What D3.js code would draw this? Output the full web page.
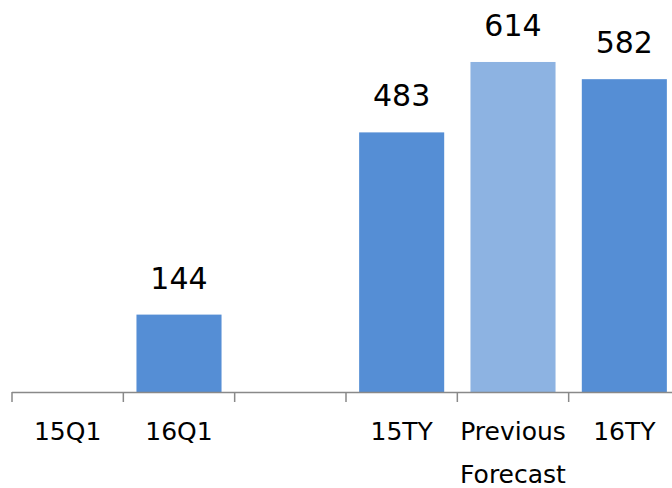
<!DOCTYPE html>
<html>
<head>
<meta charset="utf-8">
<script src="https://cdn.jsdelivr.net/npm/d3@7/dist/d3.min.js"></script>
<style>
  html, body { margin: 0; padding: 0; background: #fff; }
  svg { display: block; }
  text { font-family: "DejaVu Sans", Verdana, sans-serif; fill: #000; }
</style>
</head>
<body>
<svg id="chart" width="672" height="488"></svg>
<script>
const categories = ["15Q1", "16Q1", "", "15TY", "Previous Forecast", "16TY"];
const values = [null, 144, null, 483, 614, 582];
const barColors = ["#558ED5", "#558ED5", "#558ED5", "#558ED5", "#8DB3E2", "#558ED5"];

const W = 672, H = 488;
const baseY = 392;
const svg = d3.select("#chart");

const x = d3.scaleBand()
  .domain(d3.range(categories.length))
  .range([12, 680])
  .paddingInner(0.236)
  .paddingOuter(0.118);

const y = d3.scaleLinear().domain([0, 700]).range([baseY, baseY - 700 * 0.5375]);

const data = categories.map((c, i) => ({ i, c, v: values[i], color: barColors[i] }));

svg.selectAll("rect.bar")
  .data(data.filter(d => d.v != null))
  .join("rect")
  .attr("class", "bar")
  .attr("x", d => x(d.i))
  .attr("width", x.bandwidth())
  .attr("y", d => y(d.v))
  .attr("height", d => y(0) - y(d.v))
  .attr("fill", d => d.color);

svg.selectAll("text.val")
  .data(data.filter(d => d.v != null))
  .join("text")
  .attr("class", "val")
  .attr("x", d => x(d.i) + x.bandwidth() / 2)
  .attr("y", d => y(d.v) - 26)
  .attr("text-anchor", "middle")
  .style("font-size", "30px")
  .text(d => d.v);

// axis
const step = x.step();
const edges = d3.range(categories.length + 1).map(k => 12 + k * step);
svg.append("line")
  .attr("x1", 12).attr("x2", 680)
  .attr("y1", baseY + 0.5).attr("y2", baseY + 0.5)
  .attr("stroke", "#898989").attr("stroke-width", 1.5);
svg.selectAll("line.tick")
  .data(edges)
  .join("line")
  .attr("class", "tick")
  .attr("x1", d => d).attr("x2", d => d)
  .attr("y1", baseY).attr("y2", baseY + 10)
  .attr("stroke", "#898989").attr("stroke-width", 1.5);

const labels = svg.selectAll("text.cat")
  .data(data)
  .join("text")
  .attr("class", "cat")
  .attr("x", d => 12 + d.i * step + step / 2)
  .attr("y", 440)
  .attr("text-anchor", "middle")
  .style("font-size", "25px");
labels.each(function(d) {
  const words = d.c === "Previous Forecast" ? ["Previous", "Forecast"] : [d.c];
  const t = d3.select(this);
  words.forEach((w, k) => {
    t.append("tspan")
      .attr("x", 12 + d.i * step + step / 2)
      .attr("dy", k === 0 ? 0 : 43)
      .text(w);
  });
});
</script>
</body>
</html>
